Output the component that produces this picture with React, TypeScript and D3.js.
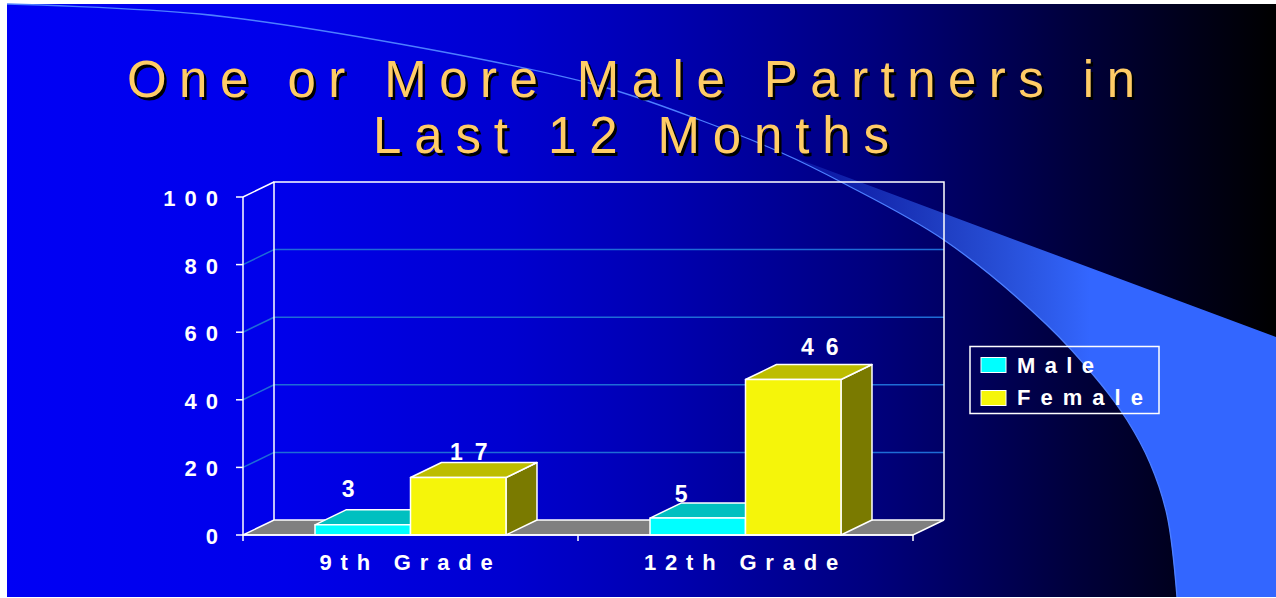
import React from "react";
import * as d3 from "d3";

const categories = ["9th Grade", "12th Grade"];
const seriesNames = ["Male", "Female"];
const maleValues = [3, 5];
const femaleValues = [17, 46];
const yTicks = [0, 20, 40, 60, 80, 100];
const titleLines = ["One or More Male Partners in", "Last 12 Months"];

// swoosh outline points (decoration)
const swooshCurve: [number, number][] = [
  [7, 4], [200, 14], [400, 44], [600, 86], [700, 120], [782, 153], [843, 183],
  [944, 240], [1046, 324], [1100, 383], [1127, 420], [1150, 463], [1167, 515], [1177, 597],
];

const W = 1276, H = 598;
const DX = 31, DY = -15;
const FONT = "'Liberation Sans', Arial, sans-serif";

const seriesStyle = [
  { front: "#00FFFF", top: "#00C0C0", side: "#008080" },
  { front: "#F5F50A", top: "#BDBD00", side: "#7A7A00" },
];
// label nudges (dx from top-face centre, dy from top-back edge)
const labelDx = [[-30, -32], [-5, 11]];
const labelDy = [[-13, -1], [-3, -10]];

export default function App() {
  const y = d3.scaleLinear().domain([0, 100]).range([535, 197]);
  const x0 = d3.scaleBand().domain(categories).range([243, 913]).padding(0);
  const x1 = d3.scaleBand().domain(seriesNames).range([0, x0.bandwidth()]).paddingInner(0).paddingOuter(0.754);
  const y0 = y(0);
  const xL = 243, xR = 913;
  const values = [maleValues, femaleValues];

  const lineGen = d3.line().curve(d3.curveCatmullRom.alpha(0.5));
  const lowerPath = lineGen(swooshCurve) as string;
  // band: straight upper edge from ~(790,158) to right edge, down, then back along curve
  const bandStartIdx = 5;
  const bandCurve = swooshCurve.slice(bandStartIdx);
  const bandLower = lineGen(bandCurve) as string;
  const reversed = lineGen(bandCurve.slice().reverse()) as string;
  const bandPath = `M782,153 L1276,337 L1276,597 L1177,597 ` + reversed.replace(/^M/, "L") + " Z";

  const bars: JSX.Element[] = [];
  const labels: JSX.Element[] = [];
  categories.forEach((c, ci) => {
    seriesNames.forEach((s, si) => {
      const v = values[si][ci];
      const x = (x0(c) as number) + (x1(s) as number);
      const w = x1.bandwidth();
      const yt = y(v);
      const st = seriesStyle[si];
      bars.push(
        <g key={`${c}-${s}`} stroke="#FFFFFF" strokeWidth={1.5} strokeLinejoin="round">
          <polygon points={`${x + w},${yt} ${x + w + DX},${yt + DY} ${x + w + DX},${y0 + DY} ${x + w},${y0}`} fill={st.side} />
          <polygon points={`${x},${yt} ${x + DX},${yt + DY} ${x + w + DX},${yt + DY} ${x + w},${yt}`} fill={st.top} />
          <rect x={x} y={yt} width={w} height={y0 - yt} fill={st.front} />
        </g>
      );
      const lx = x + w / 2 + DX / 2 + labelDx[si][ci];
      const ly = yt + DY + labelDy[si][ci];
      labels.push(
        <text key={`l-${c}-${s}`} x={lx + 6} y={ly} textAnchor="middle" fill="#FFFFFF"
          fontFamily={FONT} fontWeight="bold" fontSize={23} letterSpacing={12}>{v}</text>
      );
    });
  });

  return (
    <div style={{ position: "fixed", left: 0, top: 0, width: W, height: H, background: "#FFFFFF" }}>
      <svg width={W} height={H} viewBox={`0 0 ${W} ${H}`}>
        <defs>
          <linearGradient id="bg" x1="0" y1="0" x2="1" y2="0">
            <stop offset="0%" stopColor="#0000F5" />
            <stop offset="22%" stopColor="#0000EA" />
            <stop offset="40%" stopColor="#0000CF" />
            <stop offset="52%" stopColor="#0000B0" />
            <stop offset="68%" stopColor="#00007E" />
            <stop offset="84%" stopColor="#00003C" />
            <stop offset="100%" stopColor="#000000" />
          </linearGradient>
          <linearGradient id="band" gradientUnits="userSpaceOnUse" x1="790" y1="0" x2="1090" y2="0">
            <stop offset="0%" stopColor="#3366FF" stopOpacity={0.15} />
            <stop offset="50%" stopColor="#3366FF" stopOpacity={0.6} />
            <stop offset="100%" stopColor="#3366FF" stopOpacity={1} />
          </linearGradient>
        </defs>
        <rect x={7} y={4} width={W - 7} height={593} fill="url(#bg)" />
        {/* swoosh */}
        <path d={bandPath} fill="url(#band)" />
        <path d={lowerPath} fill="none" stroke="#4D7FFF" strokeWidth={1.3} />

        {/* title */}
        {titleLines.map((t, i) => {
          const spans = [[127, 97, 1008], [373, 153, 516]][i];
          return (
            <g key={t} fontFamily={FONT} fontSize={51}>
              <text x={spans[0] + 2.5} y={spans[1] + 2.5} fill="#000000" textLength={spans[2]} lengthAdjust="spacing">{t}</text>
              <text x={spans[0]} y={spans[1]} fill="#FFCC66" textLength={spans[2]} lengthAdjust="spacing">{t}</text>
            </g>
          );
        })}

        {/* gridlines */}
        {yTicks.filter((t) => t > 0 && t < 100).map((t) => (
          <g key={`g${t}`} stroke="#1E6CD6" strokeWidth={1.5}>
            <line x1={xL} y1={y(t)} x2={xL + DX} y2={y(t) + DY} />
            <line x1={xL + DX} y1={y(t) + DY} x2={xR + DX} y2={y(t) + DY} />
          </g>
        ))}
        {/* walls outline */}
        <g stroke="#FFFFFF" strokeWidth={1.5} fill="none">
          <polyline points={`${xL + DX},${y0 + DY} ${xL + DX},${y(100) + DY} ${xR + DX},${y(100) + DY} ${xR + DX},${y0 + DY}`} />
          <line x1={xL} y1={y(100)} x2={xL + DX} y2={y(100) + DY} />
        </g>
        {/* floor */}
        <polygon points={`${xL},${y0} ${xR},${y0} ${xR + DX},${y0 + DY} ${xL + DX},${y0 + DY}`}
          fill="#808080" stroke="#FFFFFF" strokeWidth={1.5} />
        {bars}
        {/* front axis */}
        <g stroke="#FFFFFF" strokeWidth={1.5}>
          <line x1={xL} y1={y(100)} x2={xL} y2={y0} />
          <line x1={xL} y1={y0} x2={xR} y2={y0} />
          {yTicks.map((t) => (
            <line key={`t${t}`} x1={xL - 7} y1={y(t)} x2={xL} y2={y(t)} />
          ))}
          {[xL, ...categories.map((c) => (x0(c) as number) + x0.bandwidth())].map((xx, i) => (
            <line key={`ct${i}`} x1={xx} y1={y0} x2={xx} y2={y0 + 6} />
          ))}
        </g>
        {yTicks.map((t) => (
          <text key={`yl${t}`} x={218 + 9} y={y(t) + 9} textAnchor="end" fill="#FFFFFF"
            fontFamily={FONT} fontWeight="bold" fontSize={22} letterSpacing={9}>{t}</text>
        ))}
        {categories.map((c) => (
          <text key={`cl${c}`} x={(x0(c) as number) + x0.bandwidth() / 2} y={570} textAnchor="middle" fill="#FFFFFF"
            fontFamily={FONT} fontWeight="bold" fontSize={22} letterSpacing={8.8}>{c}</text>
        ))}
        {labels}

        {/* legend */}
        <rect x={970} y={346.5} width={189} height={67} fill="none" stroke="#FFFFFF" strokeWidth={1.5} />
        {seriesNames.map((s, i) => (
          <g key={`lg${s}`}>
            <rect x={981} y={357.5 + i * 33} width={25} height={15} fill={seriesStyle[i].front} stroke="#FFFFFF" strokeWidth={1} />
            <text x={1017} y={373 + i * 32} fill="#FFFFFF" fontFamily={FONT} fontWeight="bold" fontSize={22}
              textLength={i === 0 ? 77 : 126} lengthAdjust="spacing">{s}</text>
          </g>
        ))}
      </svg>
    </div>
  );
}
